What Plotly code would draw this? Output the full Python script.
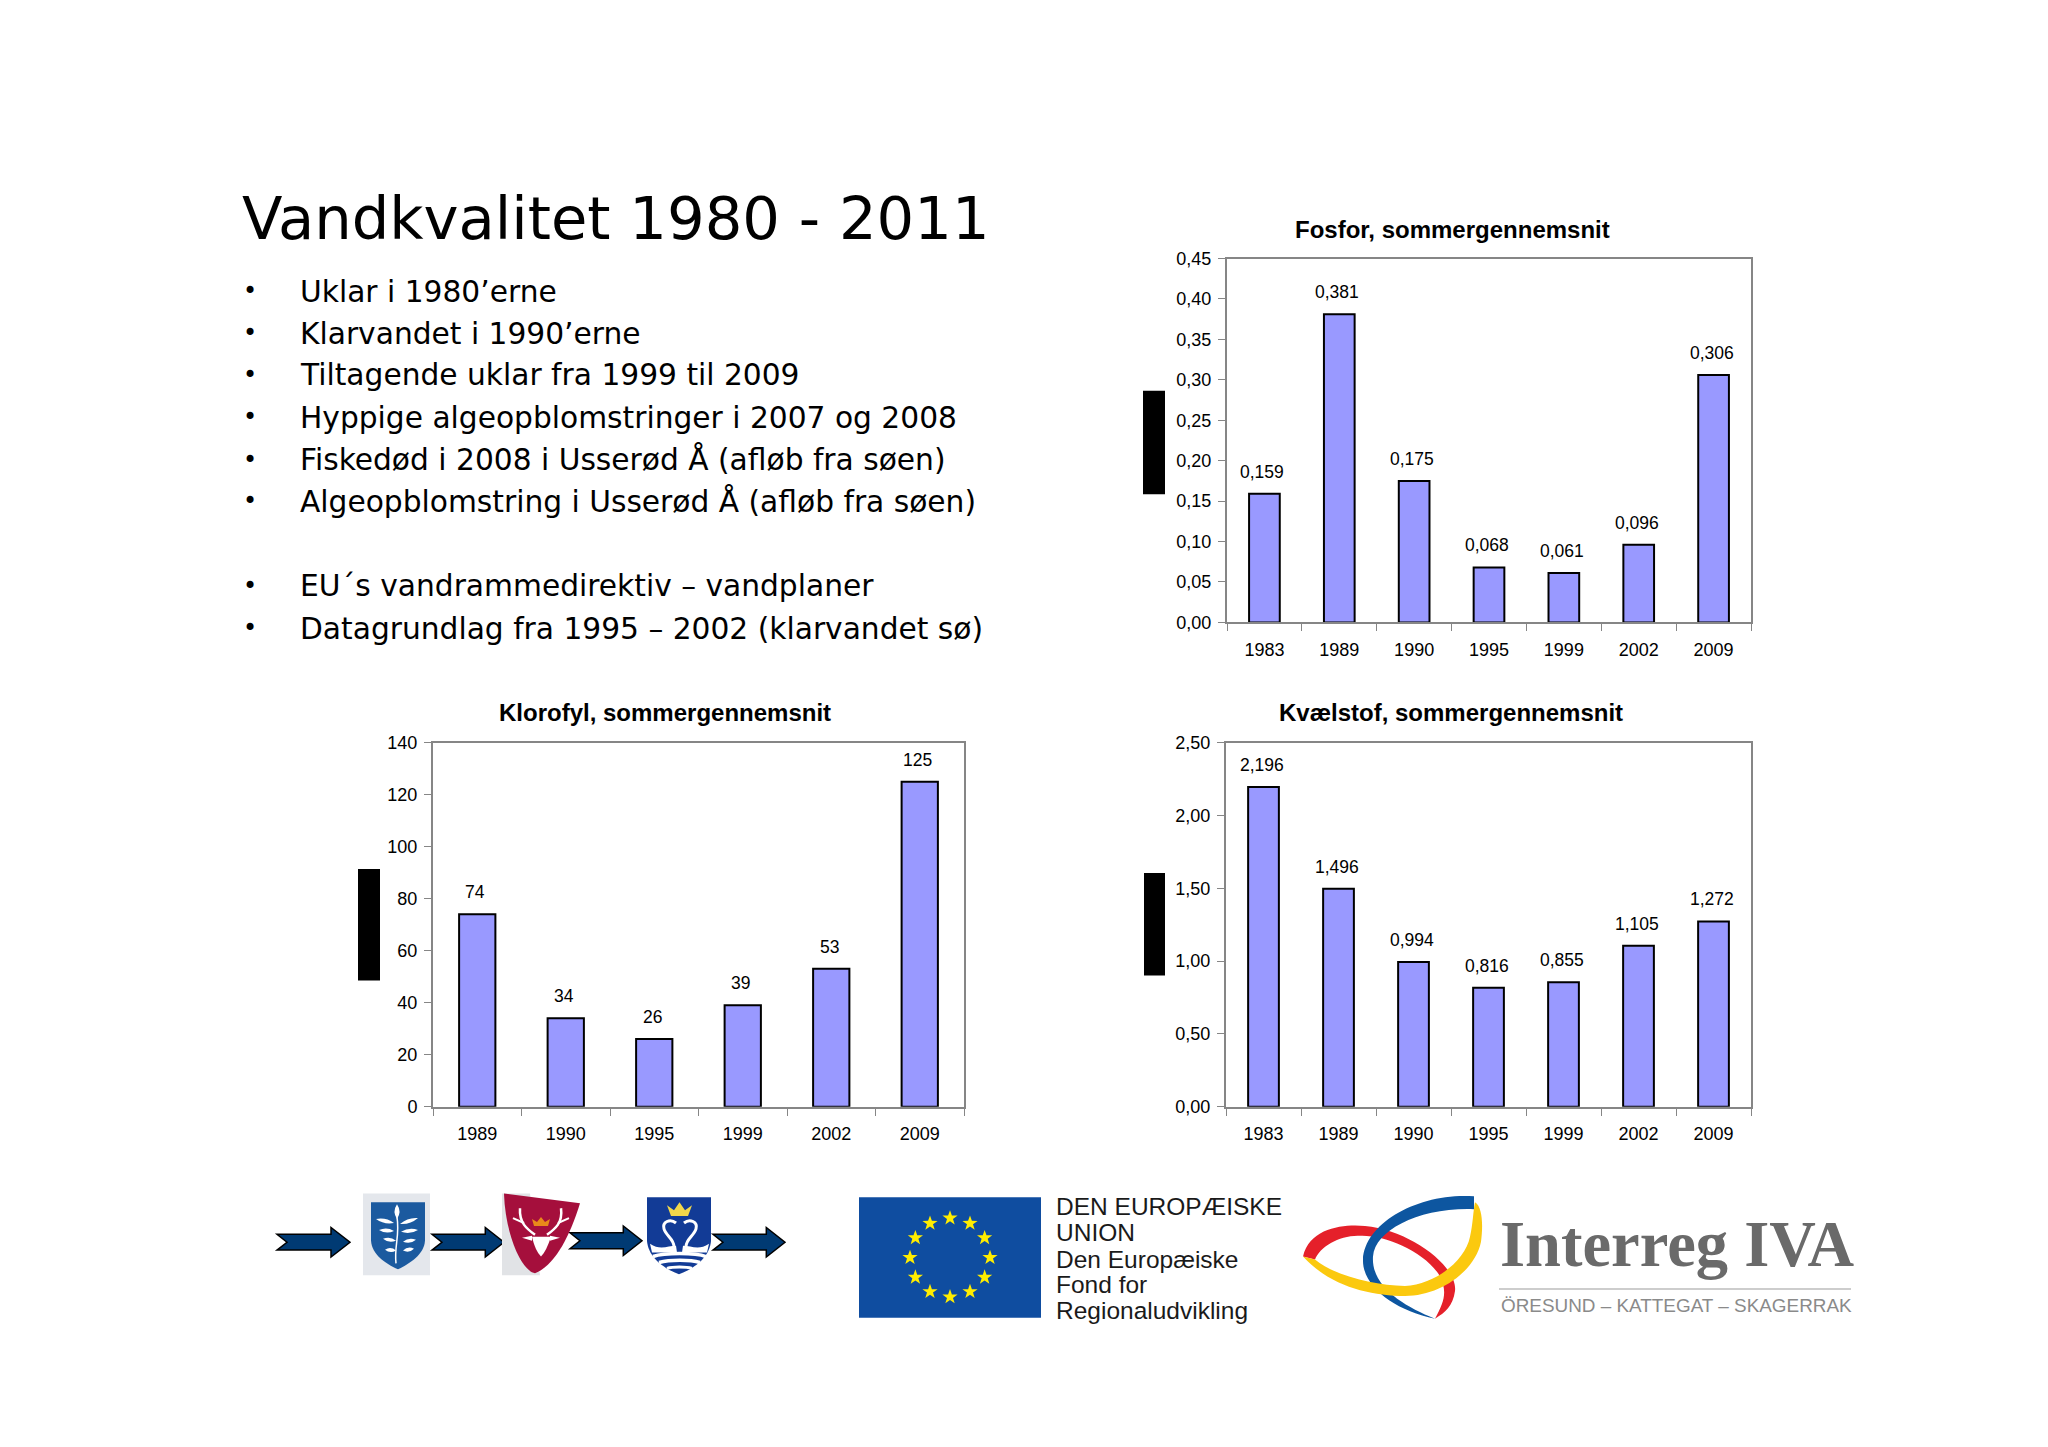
import math
import re
import plotly.graph_objects as go

# ---------- data ----------
years_fosfor = ["1983", "1989", "1990", "1995", "1999", "2002", "2009"]
values_fosfor = [0.159, 0.381, 0.175, 0.068, 0.061, 0.096, 0.306]
years_klorofyl = ["1989", "1990", "1995", "1999", "2002", "2009"]
values_klorofyl = [74, 34, 26, 39, 53, 125]
years_kvaelstof = ["1983", "1989", "1990", "1995", "1999", "2002", "2009"]
values_kvaelstof = [2.196, 1.496, 0.994, 0.816, 0.855, 1.105, 1.272]

title_text = "Vandkvalitet 1980 - 2011"
bullets = [
    "Uklar i 1980’erne",
    "Klarvandet i 1990’erne",
    "Tiltagende uklar fra 1999 til 2009",
    "Hyppige algeopblomstringer i 2007 og 2008",
    "Fiskedød i 2008 i Usserød Å (afløb fra søen)",
    "Algeopblomstring i Usserød Å (afløb fra søen)",
    "",
    "EU´s vandrammedirektiv – vandplaner",
    "Datagrundlag fra 1995 – 2002 (klarvandet sø)",
]
eu_lines = ["DEN EUROPÆISKE", "UNION", "Den Europæiske", "Fond for", "Regionaludvikling"]

W, H = 2048, 1447
AXIS = "#868686"
BAR = "#9999FF"
SANS = "Liberation Sans"


def dx(a, b):
    return [a / W, b / W]


def dy(top, bottom):
    return [1 - bottom / H, 1 - top / H]


fig = go.Figure()
annotations = []
shapes = []

charts = [
    ("x", "y", "Fosfor, sommergennemsnit", years_fosfor, values_fosfor, [0, 0.45], 0.05, ".2f", 3,
     (1227, 1751), (252, 621), 1452, 223, (1143, 1165, 386, 491)),
    ("x2", "y2", "Klorofyl, sommergennemsnit", years_klorofyl, values_klorofyl, [0, 140], 20, "d", 0,
     (433, 964), (743, 1112), 665, 712, (358, 380, 871, 984)),
    ("x3", "y3", "Kvælstof, sommergennemsnit", years_kvaelstof, values_kvaelstof, [0, 2.5], 0.5, ".2f", 3,
     (1226, 1751), (743, 1112), 1451, 712, (1144, 1165, 875, 979)),
]

layout_axes = {}
for xa, ya, name, cats, vals, rng, step, fmt, dec, xd, yd, tx, ty, blk in charts:
    fig.add_trace(go.Bar(
        x=cats, y=vals, xaxis=xa, yaxis=ya, width=0.41,
        marker=dict(color=BAR, line=dict(color="#000000", width=2)),
        hoverinfo="skip", showlegend=False,
    ))
    xkey = "xaxis" + xa[1:]
    ykey = "yaxis" + ya[1:]
    layout_axes[xkey] = dict(
        domain=dx(*xd), anchor=ya, type="category", tickson="boundaries",
        categoryorder="array", categoryarray=cats, range=[-0.5, len(cats) - 0.5],
        ticks="outside", ticklen=7, tickwidth=1, tickcolor=AXIS, linecolor=AXIS, linewidth=2,
        mirror=True, showgrid=False, tickfont=dict(family=SANS, size=18, color="#000"),
        ticklabelstandoff=10, fixedrange=True, zeroline=False, tickangle=0,
    )
    layout_axes[ykey] = dict(
        domain=dy(*yd), anchor=xa, range=rng, dtick=step, tick0=0, tickformat=fmt,
        ticks="outside", ticklen=7, tickwidth=1, tickcolor=AXIS, linecolor=AXIS, linewidth=2,
        mirror=True, showgrid=False, tickfont=dict(family=SANS, size=18, color="#000"),
        ticklabelstandoff=3, fixedrange=True, zeroline=False,
    )
    for i, v in enumerate(vals):
        annotations.append(dict(
            x=i, y=v, xref=xa, yref=ya, text=f"{v:.{dec}f}".replace(".", ","),
            showarrow=False, yanchor="middle", yshift=22, xshift=-2,
            font=dict(family=SANS, size=17.5, color="#000"),
        ))
    annotations.append(dict(
        x=tx, y=ty, xref="x4", yref="y4", text=f"<b>{name}</b>", showarrow=False,
        font=dict(family=SANS, size=24, color="#000"),
    ))
    shapes.append(dict(type="rect", xref="x4", yref="y4", x0=blk[0], x1=blk[1], y0=blk[2], y1=blk[3],
                       fillcolor="#000", line=dict(width=0)))

# separate axis in page pixels, for the slide text and logos
layout_axes["xaxis4"] = dict(domain=[0, 1], range=[0, W], visible=False, anchor="y4", fixedrange=True)
layout_axes["yaxis4"] = dict(domain=[0, 1], range=[H, 0], visible=False, anchor="x4", fixedrange=True)
fig.add_trace(go.Scatter(x=[0], y=[0], xaxis="x4", yaxis="y4", mode="markers",
                         marker=dict(opacity=0), hoverinfo="skip", showlegend=False))

# slide text
annotations.append(dict(x=240, y=211, xref="x4", yref="y4", text=title_text, showarrow=False,
                        xanchor="left", yanchor="middle",
                        font=dict(family="DejaVu Sans", size=59.2, color="#000")))
bullet_y = [285, 328, 370, 413, 456, 498, 0, 584, 627]
for t, y in zip(bullets, bullet_y):
    if not t:
        continue
    annotations.append(dict(x=241, y=y, xref="x4", yref="y4", text="•", showarrow=False, xanchor="left",
                            yanchor="middle", font=dict(family="DejaVu Sans", size=24, color="#000")))
    annotations.append(dict(x=298, y=y, xref="x4", yref="y4", text=t, showarrow=False, xanchor="left",
                            yanchor="middle", font=dict(family="DejaVu Sans", size=29.7, color="#000")))

OFF = [0, 0]


def shift(d):
    return re.sub(r"(-?\d+\.?\d*),(-?\d+\.?\d*)",
                  lambda m: f"{float(m[1]) + OFF[0]:.1f},{float(m[2]) + OFF[1]:.1f}", d)


def add_path(d, fill=None, line=None, lw=0, layer="above"):
    s = dict(type="path", xref="x4", yref="y4", path=shift(d), layer=layer,
             line=dict(color=line or "rgba(0,0,0,0)", width=lw))
    if fill:
        s["fillcolor"] = fill
    shapes.append(s)


def add_rect(x0, y0, x1, y1, fill):
    shapes.append(dict(type="rect", xref="x4", yref="y4", x0=x0 + OFF[0], x1=x1 + OFF[0],
                       y0=y0 + OFF[1], y1=y1 + OFF[1], fillcolor=fill, line=dict(width=0)))


def arrow(x0, x1, yc):
    k = (x1 - x0) / 73
    d = (f"M{x0},{yc-8} L{x0+54*k},{yc-8} L{x0+54*k},{yc-15} L{x1},{yc} L{x0+54*k},{yc+15} "
         f"L{x0+54*k},{yc+8} L{x0},{yc+8} L{x0+10*k},{yc} Z")
    add_path(d, fill="#003A73", line="#000", lw=1.5)


def leaf(x0, y0, x1, y1, w):
    mx, my = (x0 + x1) / 2, (y0 + y1) / 2
    nx, ny = -(y1 - y0), x1 - x0
    n = math.hypot(nx, ny)
    nx, ny = nx / n * w, ny / n * w
    add_path(f"M{x0},{y0} Q{mx+nx},{my+ny} {x1},{y1} Q{mx-nx},{my-ny} {x0},{y0} Z", fill="#fff")


OFF[:] = [0, 8]
for a in [(277, 350, 1241.5), (432, 504, 1241.5), (570, 642, 1240), (713, 785, 1241.5)]:
    arrow(*a)

# shield with leaves
add_rect(363, 1192, 430, 1275, "#E4E7EC")
add_path("M371,1201 L425,1201 L425,1240 C424,1254 410,1263 398,1269 C385,1263 372,1254 371,1240 Z", fill="#1B5A9F")
leaf(397, 1203, 397, 1218, 5)
for p in [(376, 1218, 394, 1222), (418, 1217, 400, 1223), (379, 1229, 394, 1230), (418, 1229, 401, 1231),
          (383, 1238, 396, 1240), (416, 1239, 403, 1241), (385, 1249, 396, 1250), (414, 1248, 403, 1250)]:
    leaf(*p, 4)
add_path("M397,1216 C400,1235 394,1245 396,1263", line="#fff", lw=1.5)

# shield with stag
add_path("M502,1192 L530,1192 L540,1275 L502,1275 Z", fill="#E1E3E6")
add_path("M504,1192 L580,1202 C570,1235 555,1265 535,1273 C520,1270 505,1230 504,1192 Z", fill="#A50F3C")
add_path("M532,1236 L551,1236 C548,1245 545,1252 541,1256 C537,1252 534,1245 532,1236 Z", fill="#fff")
add_path("M522,1237 L532,1235 L532,1240 Z", fill="#fff")
add_path("M560,1237 L550,1235 L550,1240 Z", fill="#fff")
add_path("M535,1234 C527,1228 519,1222 520,1207", line="#fff", lw=2.5)
add_path("M547,1234 C555,1228 563,1222 561,1207", line="#fff", lw=2.5)
add_path("M524,1222 L513,1217", line="#fff", lw=2)
add_path("M558,1222 L569,1217", line="#fff", lw=2)
add_path("M532,1218 L534,1225 L548,1225 L550,1218 L545,1221 L541,1216 L537,1221 Z", fill="#E8891A")

# shield with swans
add_path("M647,1196 L711,1196 L711,1240 C710,1256 695,1268 679,1274 C663,1268 648,1256 647,1240 Z", fill="#123B96")
add_path("M667,1204 L671,1215 L688,1215 L692,1204 L685,1209 L679.5,1201 L674,1209 Z", fill="#F2D84B")
add_path("M676,1222 C670,1217 662,1221 664,1228 C666,1235 674,1238 674,1246", line="#fff", lw=3)
add_path("M684,1222 C690,1217 698,1221 696,1228 C694,1235 686,1238 686,1246", line="#fff", lw=3)
add_path("M650,1243 C660,1250 668,1245 676,1245 L677,1252 L652,1252 Z", fill="#fff")
add_path("M709,1243 C699,1250 691,1245 683,1245 L682,1252 L707,1252 Z", fill="#fff")
add_path("M653,1256 C665,1252 695,1252 706,1256", line="#fff", lw=3.5)
add_path("M659,1262 C670,1259 690,1259 700,1262", line="#fff", lw=3.5)
add_path("M667,1268 C673,1266 686,1266 692,1268", line="#fff", lw=3)

# EU flag
OFF[:] = [0, 10]
add_rect(859, 1194, 1041, 1316, "#0F4DA0")
for i in range(12):
    a = math.radians(i * 30)
    cx, cy = 950 + 40 * math.sin(a), 1255 - 40 * math.cos(a)
    pts = []
    for j in range(10):
        r = 8 if j % 2 == 0 else 3.2
        b = math.radians(j * 36)
        pts.append(f"{cx + r*math.sin(b):.1f},{cy - r*math.cos(b):.1f}")
    add_path("M" + " L".join(pts) + " Z", fill="#FFED00")

for t, y in zip(eu_lines, [1213, 1240, 1267, 1292, 1319]):
    annotations.append(dict(x=1054, y=y, xref="x4", yref="y4", text=t, showarrow=False, xanchor="left",
                            yanchor="middle", font=dict(family=SANS, size=24.5, color="#1a1a1a")))

# Interreg mark
OFF[:] = [0, 9]
add_path("M1303,1255 C1310,1225 1345,1222 1365,1224 C1410,1228 1458,1265 1455,1290 C1453,1305 1445,1312 1435,1318 "
         "C1445,1300 1447,1290 1440,1275 C1425,1250 1385,1233 1360,1234 C1340,1233 1320,1245 1315,1258 Z", fill="#E5202A")
add_path("M1474,1194 C1420,1190 1365,1220 1363,1258 C1362,1285 1395,1310 1435,1318 C1403,1305 1371,1285 1373,1255 "
         "C1375,1228 1420,1205 1474,1207 Z", fill="#0D56A0")
add_path("M1475,1200 C1483,1205 1483,1225 1481,1240 C1475,1270 1440,1295 1405,1295 C1370,1295 1330,1285 1303,1255 "
         "L1315,1258 C1335,1275 1375,1284 1405,1285 C1435,1283 1465,1260 1470,1235 C1473,1222 1473,1210 1475,1200 Z",
         fill="#FBC90F")
annotations.append(dict(x=1498, y=1252, xref="x4", yref="y4", text="<b>Interreg IVA</b>", showarrow=False,
                        xanchor="left", yanchor="middle",
                        font=dict(family="Liberation Serif", size=64.5, color="#6A6A6A")))
OFF[:] = [0, 0]
add_path("M1499,1297 L1851,1297", line="#BDBDBD", lw=1.5)
annotations.append(dict(x=1499, y=1314, xref="x4", yref="y4", text="ÖRESUND – KATTEGAT – SKAGERRAK", showarrow=False,
                        xanchor="left", yanchor="middle", font=dict(family=SANS, size=18.9, color="#8A8A8A")))

fig.update_layout(
    width=W, height=H, autosize=False, margin=dict(l=0, r=0, t=0, b=0),
    paper_bgcolor="#fff", plot_bgcolor="rgba(0,0,0,0)", separators=",.", showlegend=False,
    annotations=annotations, shapes=shapes, **layout_axes,
)
fig.write_html("out.html", post_script="document.body.style.margin='0';document.body.style.overflow='hidden';",
               config={"displayModeBar": False})
